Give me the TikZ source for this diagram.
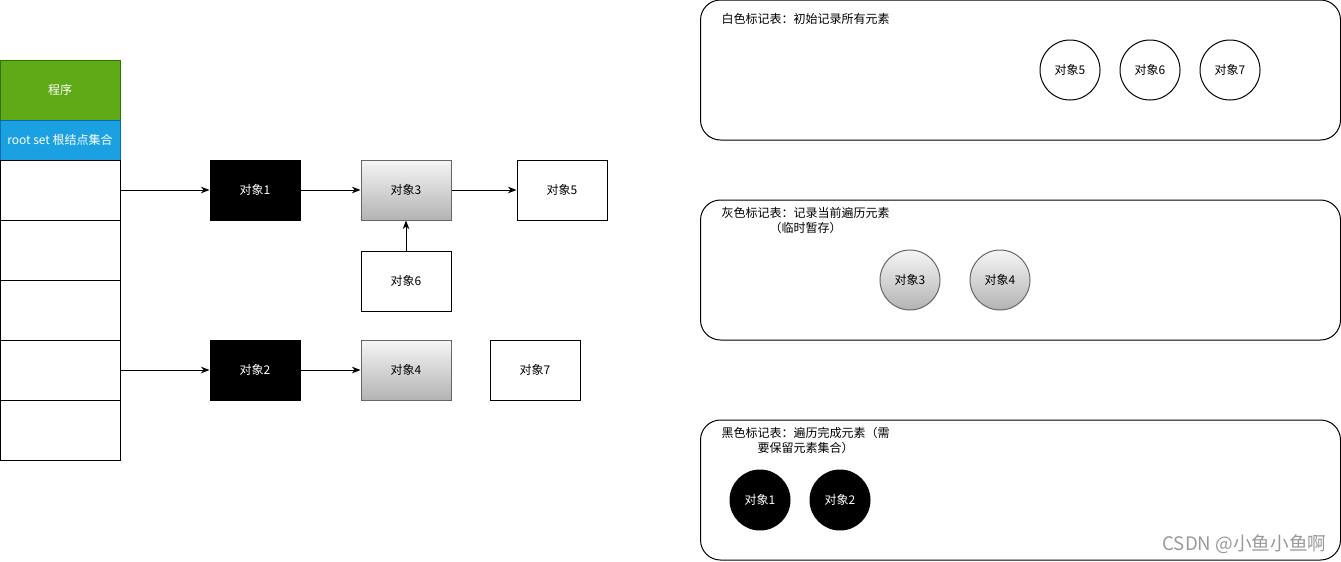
\documentclass[tikz,border=0pt]{standalone}
\usepackage{fontspec}
\setmainfont{Noto Sans CJK SC}
\usetikzlibrary{positioning,arrows.meta}

\definecolor{progfill}{HTML}{60A917}
\definecolor{progline}{HTML}{2D7600}
\definecolor{rootfill}{HTML}{1BA1E2}
\definecolor{rootline}{HTML}{006EAF}
\definecolor{graytop}{HTML}{F5F5F5}
\definecolor{graybot}{HTML}{B3B3B3}
\definecolor{grayline}{HTML}{666666}
\definecolor{markgray}{HTML}{999999}

\begin{document}
\begin{tikzpicture}[x=0.75pt,y=-0.75pt,line width=0.75pt,
        font=\fontsize{9}{11.25}\selectfont,
        cell/.style={draw, minimum width=90pt, minimum height=45pt, inner sep=0},
        obj/.style={draw, minimum width=67.5pt, minimum height=45pt, inner sep=0},
        blackobj/.style={obj, fill=black, text=white},
        grayobj/.style={obj, draw=grayline, top color=graytop, bottom color=graybot},
        dot/.style={draw, circle, minimum size=45pt, inner sep=0},
        panel/.style={draw, rounded corners=15pt, minimum width=480pt, minimum height=105pt, inner sep=0},
        lbl/.style={anchor=north west, align=center, inner sep=0},
        arr/.style={-{Stealth[length=6.5pt,width=5pt]}}]
        \useasboundingbox (0,0) rectangle (1341,561);

        % stack
        \node[cell, fill=progfill, draw=progline, text=white] (prog) at (60,90) {程序};
        \node[cell, minimum height=30pt, fill=rootfill, draw=rootline, text=white] (root) at (60,140) {root set 根结点集合};
        \foreach \i in {1,...,5}
        {
            \node[cell] (c\i) at (60,130+60*\i) {};
        }

        % objects
        \node[blackobj] (o1) at (255,190) {对象1};
        \node[grayobj, right=45pt of o1] (o3) {对象3};
        \node[obj] (o5) at (562,190) {对象5};
        \node[obj, below=22.5pt of o3] (o6) {对象6};
        \node[blackobj] (o2) at (255,370) {对象2};
        \node[grayobj, right=45pt of o2] (o4) {对象4};
        \node[obj] (o7) at (535,370) {对象7};

        % arrows
        \draw[arr] (c1) -- (o1);
        \draw[arr] (o1) -- (o3);
        \draw[arr] (o3) -- (o5);
        \draw[arr] (o6) -- (o3);
        \draw[arr] (c4) -- (o2);
        \draw[arr] (o2) -- (o4);

        % mark tables
        \node[panel] (white) at (1020.5,70) {};
        \node[panel] (gray) at (1020.5,270) {};
        \node[panel] (black) at (1020.5,490) {};

        \node[lbl] (whitelbl) at (721,13) {白色标记表：初始记录所有元素};
        \node[lbl] (graylbl) at (721,207) {灰色标记表：记录当前遍历元素\\（临时暂存）};
        \node[lbl] (blacklbl) at (721,427) {黑色标记表：遍历完成元素（需\\要保留元素集合）};

        \foreach \n/\x in {5/1070,6/1150,7/1230}
        {
            \node[dot] (w\n) at (\x,70) {对象\n};
        }
        \foreach \n/\x in {3/910,4/1000}
        {
            \node[dot, draw=grayline, top color=graytop, bottom color=graybot] (g\n) at (\x,280) {对象\n};
        }
        \foreach \n/\x in {1/760,2/840}
        {
            \node[dot, fill=black, text=white] (b\n) at (\x,500) {对象\n};
        }

        % watermark
        \node[anchor=base east, inner sep=0, text=markgray, font=\fontsize{14}{14}\selectfont] (mark) at (1327,550) {CSDN @小鱼小鱼啊};
    \end{tikzpicture}
\end{document}
